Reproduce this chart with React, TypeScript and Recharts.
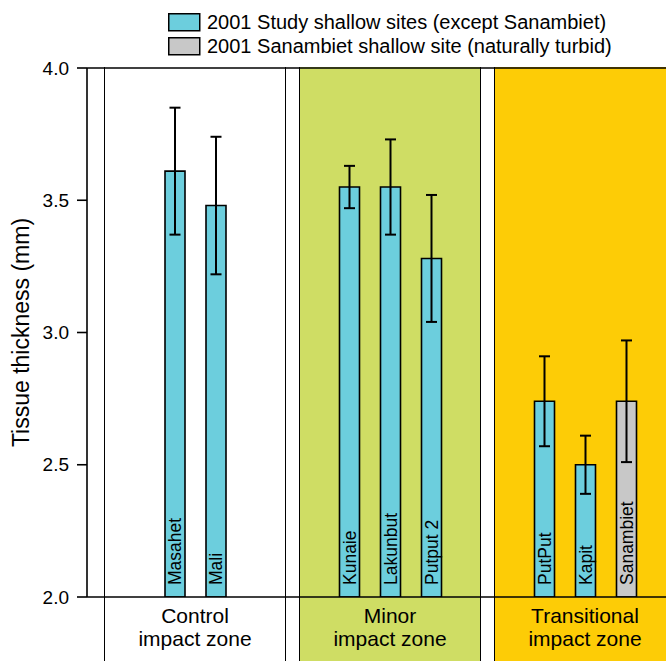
import React from "react"
import { ComposedChart, BarChart, Bar, Line, XAxis, YAxis, ReferenceLine, ErrorBar, LabelList, Cell } from "recharts"

const sites = ["Masahet", "Mali", "Kunaie", "Lakunbut", "Putput 2", "PutPut", "Kapit", "Sanambiet"]
const siteZone = ["Control", "Control", "Minor", "Minor", "Minor", "Transitional", "Transitional", "Transitional"]
const siteGroup = ["study", "study", "study", "study", "study", "study", "study", "turbid"]
const means = [3.61, 3.48, 3.55, 3.55, 3.28, 2.74, 2.5, 2.74]
const lower = [3.37, 3.22, 3.47, 3.37, 3.04, 2.57, 2.39, 2.51]
const upper = [3.85, 3.74, 3.63, 3.73, 3.52, 2.91, 2.61, 2.97]

const zoneNames = ["Control", "Minor", "Transitional"]
const zoneLabels = [["Control", "impact zone"], ["Minor", "impact zone"], ["Transitional", "impact zone"]]
const yTicks = [2.0, 2.5, 3.0, 3.5, 4.0]
const legendItems = [
  { key: "study", label: "2001 Study shallow sites (except Sanambiet)" },
  { key: "turbid", label: "2001 Sanambiet shallow site (naturally turbid)" },
]

const FONT = "'Liberation Sans', Arial, Helvetica, sans-serif"
const W = 666
const H = 661
const PLOT_TOP = 68
const AXIS_H = 64
const PANEL_W = 180
const SPACING = 41
const panelLeft = [104, 299, 494]
const zoneFill = ["#ffffff", "#cfdd64", "#fdcc06"]
const groupFill: Record<string, string> = { study: "#6ccedd", turbid: "#c8c8c8" }

const rows = sites.map((site, i) => ({
  site,
  zone: siteZone[i],
  group: siteGroup[i],
  mean: means[i],
  err: [+(means[i] - lower[i]).toFixed(3), +(upper[i] - means[i]).toFixed(3)],
}))

const SiteLabel = (props: any) => {
  const vb = props.viewBox || props
  const x = vb.x + vb.width / 2
  const y = vb.y + vb.height - 12
  return (
    <text
      x={x}
      y={y}
      dy="0.36em"
      transform={`rotate(-90 ${x} ${y})`}
      textAnchor="start"
      fontSize={17.5}
      fontFamily={FONT}
      fill="#000"
    >
      {props.value}
    </text>
  )
}

const ZoneLabel = ({ lines }: { lines: string[] }) => (props: any) => {
  const vb = props.viewBox
  const cx = vb.x + vb.width / 2
  return (
    <text textAnchor="middle" fontSize={21} fontFamily={FONT} fill="#000">
      <tspan x={cx} y={vb.y + 26}>{lines[0]}</tspan>
      <tspan x={cx} y={vb.y + 49}>{lines[1]}</tspan>
    </text>
  )
}

const YTitle = (props: any) => {
  const vb = props.viewBox
  const x = 21
  const y = vb.y + vb.height / 2
  return (
    <text
      x={x}
      y={y}
      transform={`rotate(-90 ${x} ${y})`}
      textAnchor="middle"
      dominantBaseline="central"
      fontSize={23}
      fontFamily={FONT}
      fill="#000"
    >
      Tissue thickness (mm)
    </text>
  )
}

const ZonePanel = ({ index }: { index: number }) => {
  const zone = zoneNames[index]
  const data = rows.filter((r) => r.zone === zone)
  const pad = (PANEL_W - data.length * SPACING) / 2
  const chartH = H - PLOT_TOP + 1
  return (
    <div
      style={{
        position: "absolute",
        left: panelLeft[index],
        top: PLOT_TOP - 1,
        width: PANEL_W,
        height: chartH,
        background: zoneFill[index],
        borderLeft: "1.5px solid #000",
        borderRight: "1.5px solid #000",
      }}
    >
      <BarChart width={PANEL_W} height={chartH} data={data} margin={{ top: 1, right: 0, bottom: 0, left: 0 }}>
        <XAxis
          dataKey="site"
          tick={false}
          tickLine={false}
          axisLine={{ stroke: "#000", strokeWidth: 1.6 }}
          height={AXIS_H}
          padding={{ left: pad, right: pad }}
          label={{ content: ZoneLabel({ lines: zoneLabels[index] }) }}
        />
        <YAxis hide type="number" domain={[2, 4]} allowDataOverflow />
        <ReferenceLine y={4} stroke="#000" strokeWidth={1.6} />
        <Bar dataKey="mean" barSize={20} stroke="#000" strokeWidth={1.6} isAnimationActive={false}>
          {data.map((r) => (
            <Cell key={r.site} fill={groupFill[r.group]} />
          ))}
          <ErrorBar dataKey="err" width={5.5} stroke="#000" strokeWidth={2} />
          <LabelList dataKey="site" content={SiteLabel} />
        </Bar>
      </BarChart>
    </div>
  )
}

const Legend = () => (
  <svg width={W} height={62} style={{ position: "absolute", left: 0, top: 0 }}>
    {legendItems.map((item, i) => (
      <g key={item.key}>
        <rect x={168.75} y={13.75 + i * 24} width={31} height={17} fill={groupFill[item.key]} stroke="#000" strokeWidth={1.5} />
        <text x={207} y={28.5 + i * 24} fontSize={20} fontFamily={FONT} fill="#000">
          {item.label}
        </text>
      </g>
    ))}
  </svg>
)

export default function App() {
  return (
    <div
      style={{
        position: "absolute",
        left: 0,
        top: 0,
        width: W,
        height: H,
        overflow: "hidden",
        background: "#fff",
        fontFamily: FONT,
      }}
    >
      <div style={{ position: "absolute", left: 0, top: 0 }}>
        <ComposedChart width={W} height={H} data={rows} margin={{ top: PLOT_TOP, right: 0, bottom: AXIS_H, left: 0 }}>
          <XAxis dataKey="site" hide />
          <YAxis
            type="number"
            domain={[2, 4]}
            allowDataOverflow
            ticks={yTicks}
            width={87}
            tickFormatter={(v: number) => v.toFixed(1)}
            tick={{ fill: "#000", fontSize: 19, fontFamily: FONT }}
            tickSize={10}
            tickMargin={8}
            tickLine={{ stroke: "#000", strokeWidth: 1.6 }}
            axisLine={{ stroke: "#000", strokeWidth: 1.6 }}
            label={{ content: YTitle }}
          />
          <Line dataKey="mean" stroke="none" dot={false} activeDot={false} legendType="none" isAnimationActive={false} />
          <ReferenceLine y={4} stroke="#000" strokeWidth={1.6} />
          <ReferenceLine y={2} stroke="#000" strokeWidth={1.6} />
        </ComposedChart>
      </div>
      {zoneNames.map((z, i) => (
        <ZonePanel key={z} index={i} />
      ))}
      <Legend />
    </div>
  )
}
